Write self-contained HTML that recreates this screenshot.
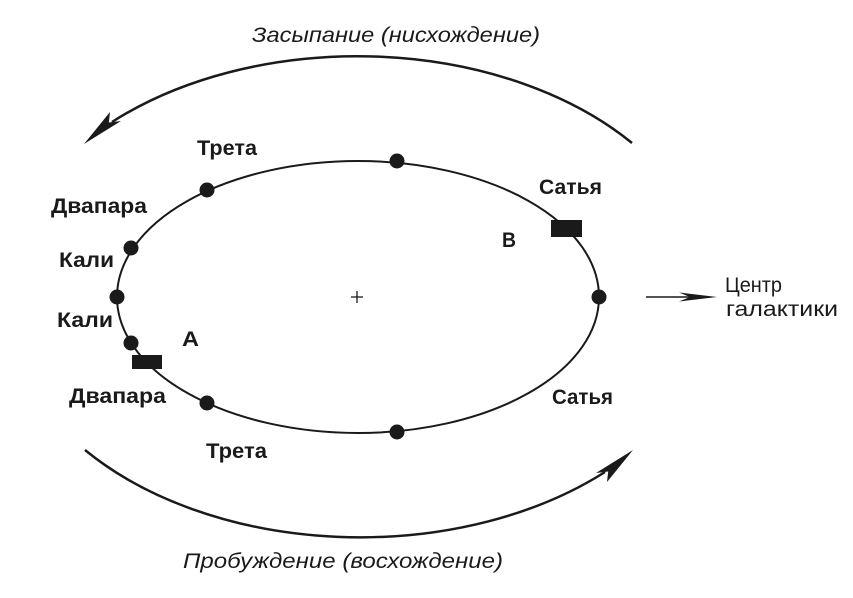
<!DOCTYPE html>
<html>
<head>
<meta charset="utf-8">
<style>
  html, body { margin: 0; padding: 0; background: #ffffff; }
  svg { display: block; }
  .lbl { font-family: "Liberation Sans", "DejaVu Sans", sans-serif; font-weight: bold; font-size: 21px; fill: #1a1a1a; }
  .reg { font-family: "Liberation Sans", "DejaVu Sans", sans-serif; font-size: 21px; fill: #1a1a1a; }
  .ttl { font-family: "Liberation Sans", "DejaVu Sans", sans-serif; font-style: italic; font-size: 21px; fill: #1a1a1a; }
</style>
</head>
<body>
<svg width="853" height="598" viewBox="0 0 853 598" xmlns="http://www.w3.org/2000/svg">
  <rect x="0" y="0" width="853" height="598" fill="#ffffff"/>

  <!-- Titles -->
  <text class="ttl" x="252" y="42" textLength="288" lengthAdjust="spacingAndGlyphs">Засыпание (нисхождение)</text>
  <text class="ttl" x="183" y="568" textLength="320" lengthAdjust="spacingAndGlyphs">Пробуждение (восхождение)</text>

  <!-- Top arc with arrowhead -->
  <path d="M 112 122 A 355 237 0 0 1 632 143" fill="none" stroke="#1a1a1a" stroke-width="2.5"/>
  <polygon points="84,144 110,112 108.8,122.5 121,121" fill="#1a1a1a"/>

  <!-- Bottom arc with arrowhead -->
  <path d="M 85 450 A 355 237 0 0 0 605 472" fill="none" stroke="#1a1a1a" stroke-width="2.5"/>
  <polygon points="633,450 607,482 608.2,471.5 596,473" fill="#1a1a1a"/>

  <!-- Orbit ellipse -->
  <ellipse cx="358" cy="297" rx="241" ry="136" fill="none" stroke="#1a1a1a" stroke-width="2"/>

  <!-- Dots -->
  <g fill="#1a1a1a">
    <circle cx="207" cy="190" r="7.5"/>
    <circle cx="131" cy="248" r="7.5"/>
    <circle cx="117" cy="297" r="7.5"/>
    <circle cx="131" cy="343" r="7.5"/>
    <circle cx="207" cy="403" r="7.5"/>
    <circle cx="397" cy="432" r="7.5"/>
    <circle cx="599" cy="297" r="7.5"/>
    <circle cx="397" cy="161" r="7.5"/>
  </g>

  <!-- Rectangles A and B -->
  <rect x="132" y="355" width="30" height="14" fill="#1a1a1a"/>
  <rect x="551" y="220" width="31" height="17" fill="#1a1a1a"/>

  <!-- Center plus -->
  <line x1="351" y1="297" x2="363" y2="297" stroke="#1a1a1a" stroke-width="1.3"/>
  <line x1="357" y1="291" x2="357" y2="303" stroke="#1a1a1a" stroke-width="1.3"/>

  <!-- Right arrow to galactic center -->
  <line x1="646" y1="297" x2="690" y2="297" stroke="#1a1a1a" stroke-width="1.6"/>
  <polygon points="717,297 679,292.5 690,297 679,301.5" fill="#1a1a1a"/>

  <!-- Labels -->
  <text class="lbl" x="197" y="155" textLength="60" lengthAdjust="spacingAndGlyphs">Трета</text>
  <text class="lbl" x="51" y="213" textLength="96" lengthAdjust="spacingAndGlyphs">Двапара</text>
  <text class="lbl" x="59" y="267" textLength="55" lengthAdjust="spacingAndGlyphs">Кали</text>
  <text class="lbl" x="57" y="327" textLength="56" lengthAdjust="spacingAndGlyphs">Кали</text>
  <text class="lbl" x="182" y="346" textLength="17" lengthAdjust="spacingAndGlyphs">A</text>
  <text class="lbl" x="69" y="403" textLength="97" lengthAdjust="spacingAndGlyphs">Двапара</text>
  <text class="lbl" x="206" y="458" textLength="61" lengthAdjust="spacingAndGlyphs">Трета</text>
  <text class="lbl" x="539" y="194" textLength="63" lengthAdjust="spacingAndGlyphs">Сатья</text>
  <text class="lbl" x="502" y="247" textLength="14" lengthAdjust="spacingAndGlyphs">B</text>
  <text class="lbl" x="552" y="404" textLength="61" lengthAdjust="spacingAndGlyphs">Сатья</text>

  <text class="reg" x="725" y="292" textLength="57" lengthAdjust="spacingAndGlyphs">Центр</text>
  <text class="reg" x="726" y="316" textLength="112" lengthAdjust="spacingAndGlyphs">галактики</text>
</svg>
</body>
</html>
